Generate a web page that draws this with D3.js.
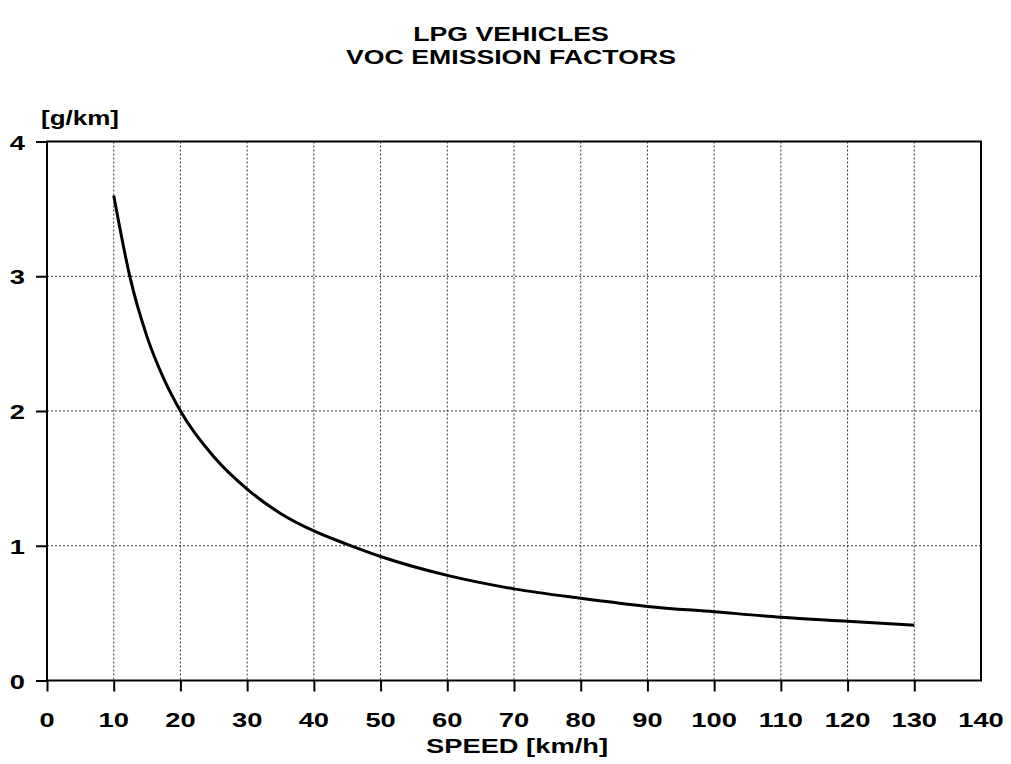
<!DOCTYPE html>
<html>
<head>
<meta charset="utf-8">
<script src="https://cdn.jsdelivr.net/npm/d3@7"></script>
<style>
  html, body { margin: 0; padding: 0; background: #fff; }
  svg text { font-family: "Liberation Sans", Arial, Helvetica, sans-serif; font-weight: bold; fill: #000; }
</style>
</head>
<body>
<svg id="chart" width="1011" height="764"></svg>
<script>
// ---- data ----
const titleLines = ["LPG VEHICLES", "VOC EMISSION FACTORS"];
const yUnitLabel = "[g/km]";
const xAxisTitle = "SPEED [km/h]";
const xTicks = [0, 10, 20, 30, 40, 50, 60, 70, 80, 90, 100, 110, 120, 130, 140];
const yTicks = [0, 1, 2, 3, 4];
const speed = [10, 12.5, 15, 17.5, 20, 25, 30, 35, 40, 45, 50, 60, 70, 80, 90, 100, 110, 120, 130];
const voc   = [3.60, 2.98, 2.55, 2.24, 2.00, 1.66, 1.42, 1.24, 1.11, 1.01, 0.92, 0.78, 0.68, 0.61, 0.55, 0.51, 0.47, 0.44, 0.41];

// ---- layout ----
const svg = d3.select("#chart");
const mL = 47, mR = 981, mT = 141.5, mB = 680.5;
const STRETCH = 1.3; // reference uses a wide (extended) bold sans

const x = d3.scaleLinear().domain([0, 140]).range([mL, mR]);
const y = d3.scaleLinear().domain([0, 4]).range([mB, mT]);

function label(g, px, py, txt, size, anchor, stretch) {
  return g.append("text")
    .attr("transform", `translate(${px},${py}) scale(${stretch || STRETCH},1)`)
    .attr("text-anchor", anchor || "start")
    .attr("font-size", size).text(txt);
}

// grid lines (dotted)
const grid = svg.append("g").attr("stroke", "#333").attr("stroke-width", 1).attr("stroke-dasharray", "2,2");
grid.selectAll("line.v").data(xTicks.filter(d => d > 0 && d < 140)).enter().append("line")
  .attr("x1", d => x(d)).attr("x2", d => x(d)).attr("y1", mT).attr("y2", mB);
grid.selectAll("line.h").data(yTicks.filter(d => d > 0 && d < 4)).enter().append("line")
  .attr("x1", mL).attr("x2", mR).attr("y1", d => y(d)).attr("y2", d => y(d));

// x axis
const xAxis = d3.axisBottom(x).tickValues(xTicks.filter(d => d < 140)).tickSize(11).tickFormat(d3.format("d"));
const gx = svg.append("g").attr("transform", `translate(0,${mB})`).call(xAxis);
gx.select(".domain").remove();
gx.selectAll(".tick line").attr("stroke", "#000").attr("stroke-width", 2);
gx.selectAll(".tick text").remove();
const gxl = svg.append("g");
xTicks.forEach(d => label(gxl, x(d), 727, d, 21, "middle"));

// y axis
const yAxis = d3.axisLeft(y).tickValues(yTicks).tickSize(11);
const gy = svg.append("g").attr("transform", `translate(${mL},0)`).call(yAxis);
gy.select(".domain").remove();
gy.selectAll(".tick line").attr("stroke", "#000").attr("stroke-width", 2);
gy.selectAll(".tick text").remove();
const gyl = svg.append("g");
yTicks.forEach(d => label(gyl, 25, y(d) + 8, d, 21, "end"));

// frame
svg.append("rect").attr("x", mL).attr("y", mT).attr("width", mR - mL).attr("height", mB - mT)
  .attr("fill", "none").attr("stroke", "#000").attr("stroke-width", 2);

// curve
const line = d3.line().x((d, i) => x(speed[i])).y(d => y(d)).curve(d3.curveMonotoneX);
svg.append("path").datum(voc).attr("d", line)
  .attr("fill", "none").attr("stroke", "#000").attr("stroke-width", 3);

// titles
const gt = svg.append("g");
titleLines.forEach((t, i) => label(gt, 511, 41 + i * 23, t, 21, "middle", 1.27));

label(svg, 41, 125, yUnitLabel, 20, "start");
label(svg, 517, 753, xAxisTitle, 21, "middle");
</script>
</body>
</html>
